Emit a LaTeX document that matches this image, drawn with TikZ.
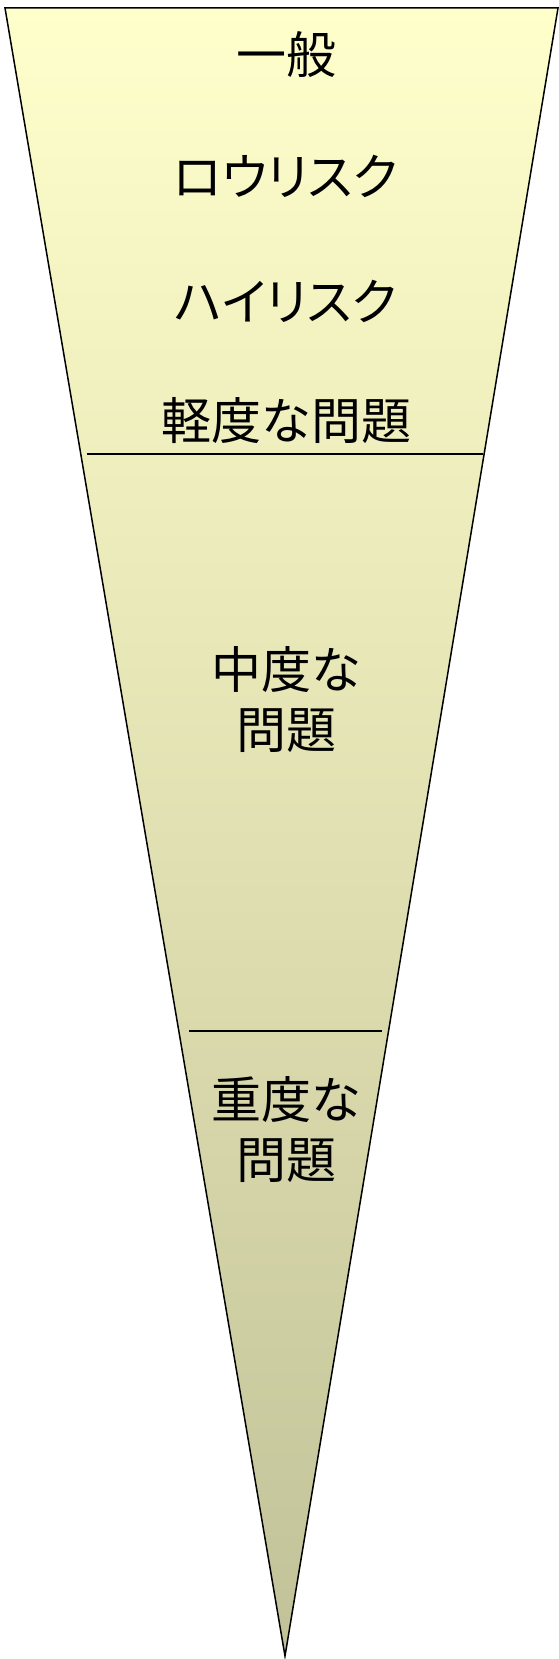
\documentclass[tikz,border=0pt]{standalone}
\usepackage{fontspec}
\newfontfamily\jpfont{Noto Sans CJK JP}
\newfontfamily\jppropfont[RawFeature=+palt]{Noto Sans CJK JP}
\definecolor{funneltop}{HTML}{FFFFCC}
\definecolor{funnelbottom}{HTML}{C2C299}
\tikzset{
    level/.style={
        font=\jpfont\fontsize{50}{60}\selectfont,
        align=center,
        inner sep=0pt
    },
    kanalevel/.style={
        level,
        font=\jppropfont\fontsize{50}{60}\selectfont
    },
    divider/.style={
        draw,
        line width=1.5pt
    }
}

\begin{document}
\begin{tikzpicture}[x=1pt, y=-1pt]
    \useasboundingbox (0,0) rectangle (559,1659);
    % Funnel
    \path[draw=black, line width=1.5pt, top color=funneltop, bottom color=funnelbottom]
        (5,8) -- (558,8) -- (285,1656) -- cycle;
    
    % Levels
    \node[level] (general) at (286,55) {一般};
    \node[kanalevel] (lowrisk) at (286,176) {ロウリスク};
    \node[kanalevel] (highrisk) at (286,301) {ハイリスク};
    \node[level] (mild) at (286,421) {軽度な問題};
    \node[level] (moderate) at (286,700) {中度な\\問題};
    \node[level] (severe) at (286,1130) {重度な\\問題};
    
    % Dividers
    \draw[divider] (87,454) -- (483,454);
    \draw[divider] (189,1031) -- (382,1031);
    
\end{tikzpicture}
\end{document}
